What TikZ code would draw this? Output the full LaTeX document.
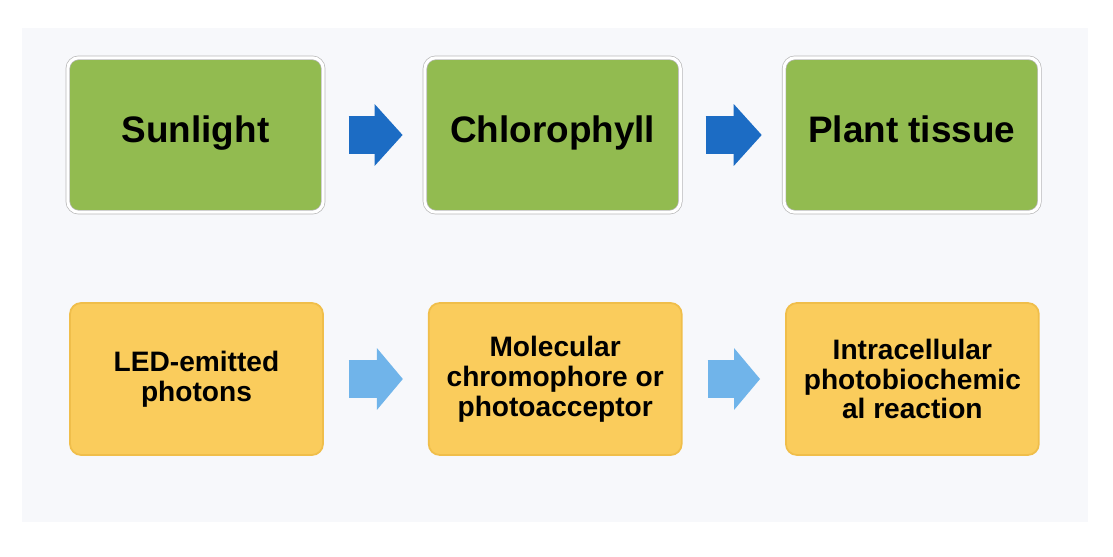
\documentclass[tikz,border=0pt]{standalone}
\usepackage{fontspec}
\setmainfont{Liberation Sans}
\usetikzlibrary{positioning}
\usetikzlibrary {arrows.meta}

\definecolor{leafgreen}{RGB}{146,187,80}
\definecolor{ledyellow}{RGB}{250,204,92}
\definecolor{ledrim}{RGB}{240,190,74}
\definecolor{darkarrow}{RGB}{28,108,196}
\definecolor{lightarrow}{RGB}{112,180,234}
\definecolor{paper}{RGB}{247,248,251}

\begin{document}
\begin{tikzpicture}[x=0.02cm,y=-0.02cm]

\def\topfont{\bfseries\fontsize{21}{24}\selectfont}
\def\botfont{\bfseries\fontsize{16}{17}\selectfont}

\useasboundingbox (0,0) rectangle (1113,557);
\fill[paper] (22,28) rectangle (1088,522);

% natural row
\node[font=\topfont,text height=1.02em,text depth=0.2em,anchor=center,fill=leafgreen,draw=gray!55,double=white,double distance=0.06cm,rounded corners=0.22cm,minimum width=5.11cm,minimum height=3.09cm](sun) at (195.5,135){Sunlight};
\node[font=\topfont,text height=1.02em,text depth=0.2em,anchor=center,fill=leafgreen,draw=gray!55,double=white,double distance=0.06cm,rounded corners=0.22cm,minimum width=5.11cm,minimum height=3.09cm,right=2.02cm of sun](chl){Chlorophyll};
\node[font=\topfont,text height=1.02em,text depth=0.2em,anchor=center,fill=leafgreen,draw=gray!55,double=white,double distance=0.06cm,rounded corners=0.22cm,minimum width=5.11cm,minimum height=3.09cm,right=2.06cm of chl](tissue){Plant tissue};

% LED row
\node[font=\botfont,align=center,anchor=center,fill=ledyellow,draw=ledrim,line width=1pt,rounded corners=0.22cm,minimum width=5.06cm,minimum height=3.04cm](led) at (196.5,379){LED-emitted\\photons};
\node[font=\botfont,align=center,anchor=center,fill=ledyellow,draw=ledrim,line width=1pt,rounded corners=0.22cm,minimum width=5.06cm,minimum height=3.04cm,right=2.08cm of led](chrom){Molecular\\chromophore or\\photoacceptor};
\node[font=\botfont,align=center,anchor=center,fill=ledyellow,draw=ledrim,line width=1pt,rounded corners=0.22cm,minimum width=5.06cm,minimum height=3.04cm,right=2.05cm of chrom](react){Intracellular\\photobiochemic\\al reaction};



\draw[darkarrow,line width=0.78cm,shorten <=0.5cm,shorten >=0.44cm,-{Triangle[length=0.56cm,width=1.24cm,line width=0pt]}] (sun) -- (chl);
\draw[darkarrow,line width=0.78cm,shorten <=0.5cm,shorten >=0.44cm,-{Triangle[length=0.56cm,width=1.24cm,line width=0pt]}] (chl) -- (tissue);
\draw[lightarrow,line width=0.76cm,shorten <=0.5cm,shorten >=0.5cm,-{Triangle[length=0.52cm,width=1.24cm,line width=0pt]}] (led) -- (chrom);
\draw[lightarrow,line width=0.76cm,shorten <=0.5cm,shorten >=0.5cm,-{Triangle[length=0.52cm,width=1.24cm,line width=0pt]}] (chrom) -- (react);
\end{tikzpicture}
\end{document}
